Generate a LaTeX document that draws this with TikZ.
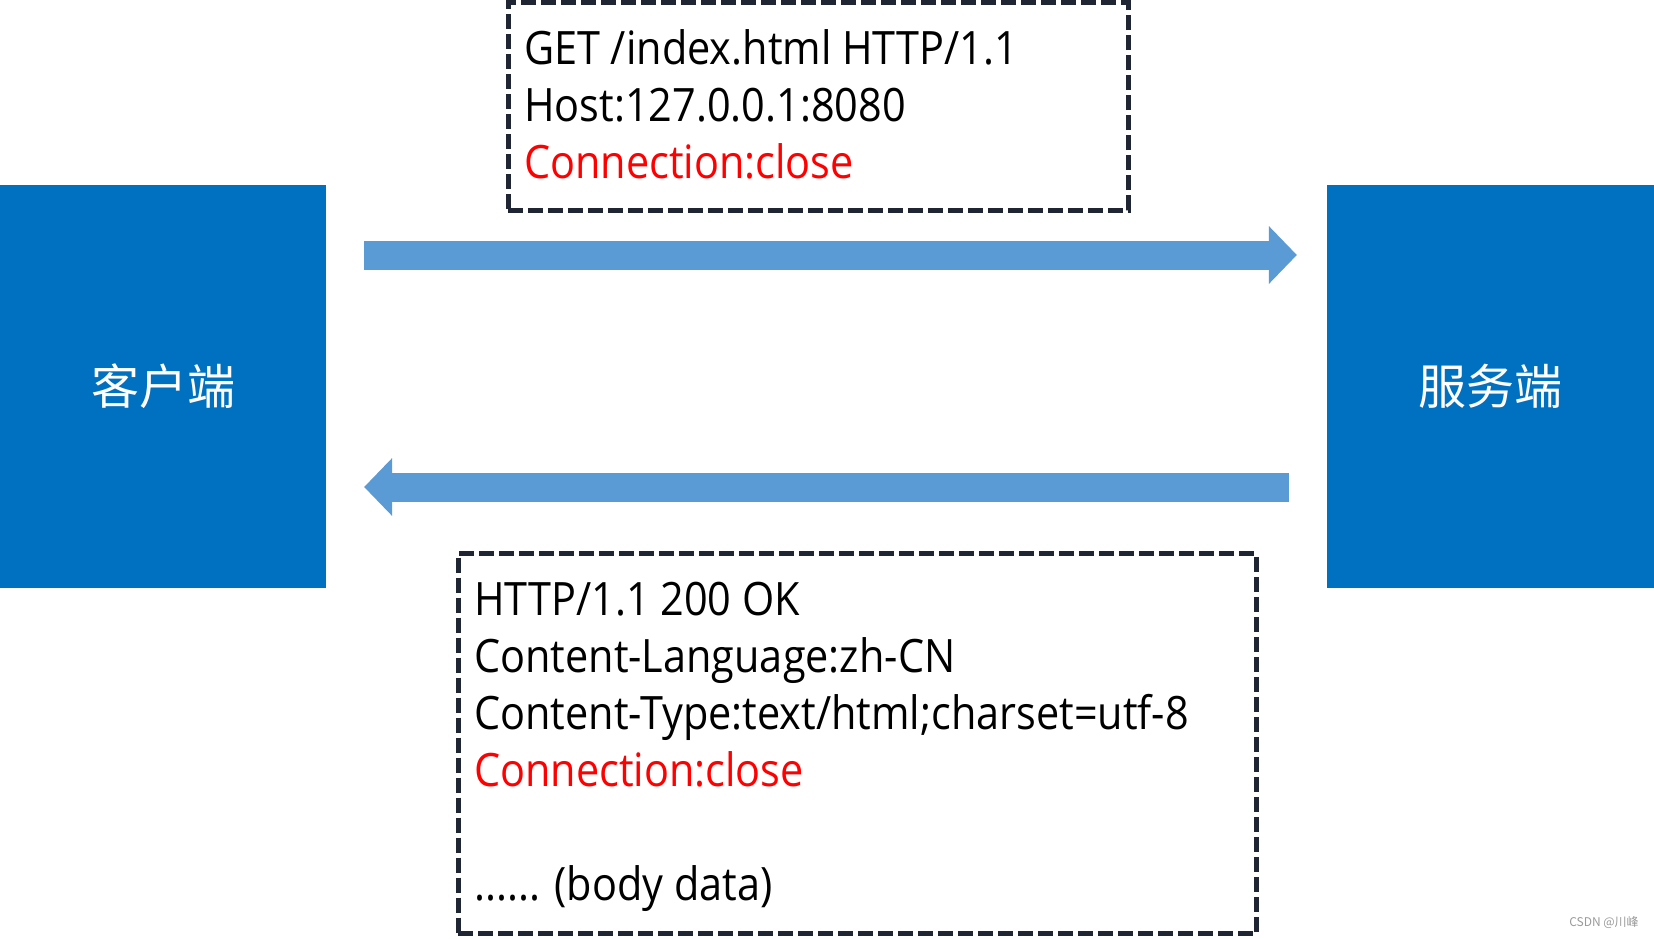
\documentclass[tikz,border=0pt]{standalone}
\usepackage{fontspec}
\setmainfont[FakeStretch=0.9]{Open Sans}
\newfontfamily\cjk{Noto Sans CJK SC}
\usetikzlibrary{arrows.meta,calc}
\definecolor{boxblue}{HTML}{0070C0}
\definecolor{arrowblue}{HTML}{5B9BD5}
\definecolor{dashdark}{HTML}{1F2532}
\definecolor{wmgray}{HTML}{9A9A9A}
\begin{document}
\begin{tikzpicture}[x=1pt,y=-1pt,
  endbox/.style={fill=boxblue, draw=none, minimum height=403pt, inner sep=0pt, text=white, font=\cjk\fontsize{48}{48}\selectfont},
  dashbox/.style={draw=dashdark, line width=5pt, dash pattern=on 15pt off 5pt, inner sep=0pt},
  msgline/.style={anchor=base west, inner sep=0pt, font=\fontsize{46}{57}\selectfont},
  hot/.style={text=red},
  bigarrow/.style={draw=arrowblue, line width=29pt, -{Triangle[length=28pt,width=58pt,line width=0pt]}},
]
\useasboundingbox (0,0) rectangle (1654,938);
\fill[white] (0,0) rectangle (1654,938);

\node[endbox, minimum width=326pt] (client) at (163,386.5) {客户端};
\node[endbox, minimum width=327pt] (server) at (1490.5,386.5) {服务端};

\node[dashbox, minimum width=620pt, minimum height=208pt] (req) at (818,106) {};
\node[msgline] (q1) at (524,64.5) {GET /index.html HTTP/1.1};
\node[msgline] (q2) at (524,121.5) {Host:127.0.0.1:8080};
\node[msgline, hot] (q3) at (524,178.5) {Connection:close};

\node[dashbox, minimum width=798pt, minimum height=380pt] (resp) at (857,743.5) {};
\node[msgline] (r1) at (474,615.5) {HTTP/1.1 200 OK};
\node[msgline] (r2) at (474,672.5) {Content-Language:zh-CN};
\node[msgline] (r3) at (474,729.5) {Content-Type:text/html;charset=utf-8};
\node[msgline, hot] (r4) at (474,786.5) {Connection:close};
\node[msgline] (r5) at (474,900.5) {...... (body data)};

\draw[bigarrow] ([xshift=38pt,yshift=131.5pt]client.east) -- ([xshift=-30pt,yshift=131.5pt]server.west);
\draw[bigarrow] ([xshift=-38pt,yshift=-100.5pt]server.west) -- ([xshift=38pt,yshift=-100.5pt]client.east);

\node[text=wmgray, font=\cjk\fontsize{12}{12}\selectfont, inner sep=0pt] (wm) at (1604,922) {CSDN @川峰};
\end{tikzpicture}
\end{document}
